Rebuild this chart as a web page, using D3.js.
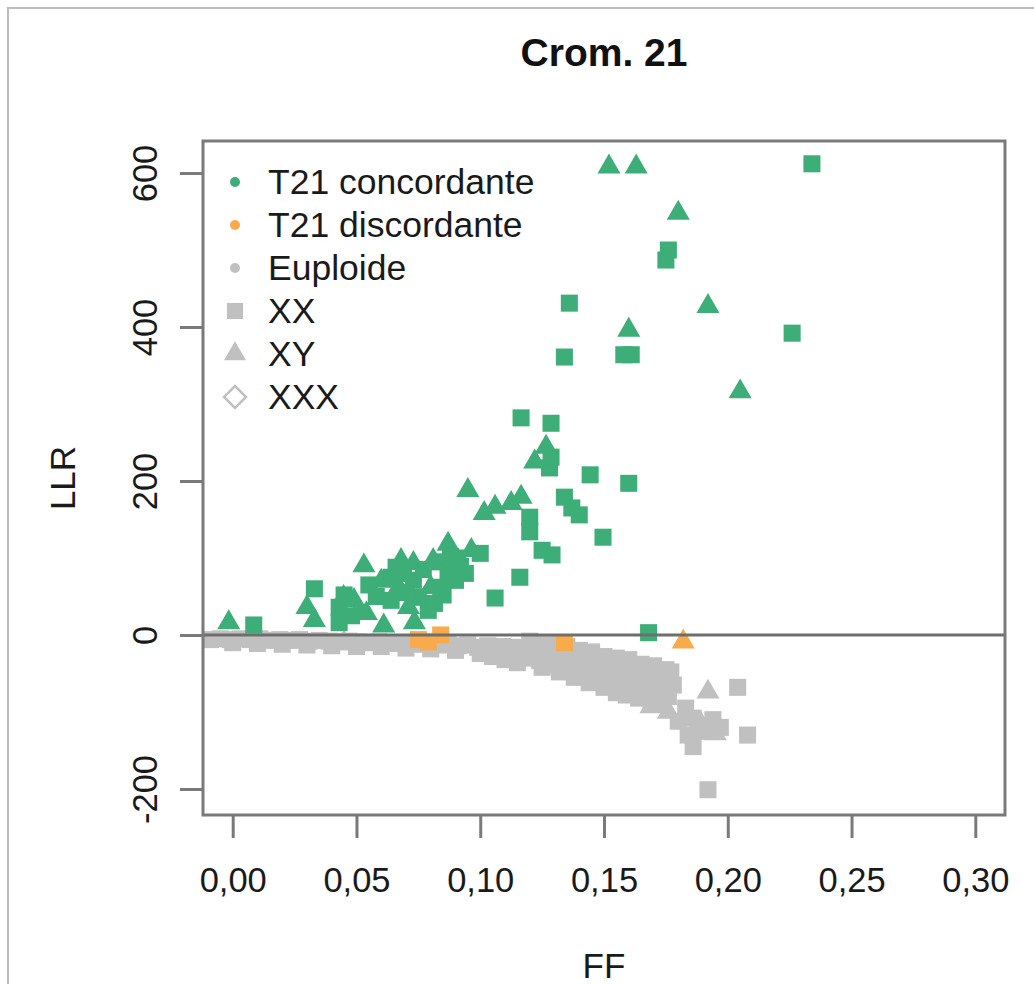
<!DOCTYPE html>
<html>
<head>
<meta charset="utf-8">
<script src="https://cdn.jsdelivr.net/npm/d3@7"></script>
<style>
  body { margin: 0; background: #fff; }
  svg { display: block; font-family: "Liberation Sans", Arial, sans-serif; }
</style>
</head>
<body>
<div id="chart"></div>
<script>
// values: [FF, LLR]
const concordXX = [
  [0.0085, 13], [0.033, 60], [0.043, 16], [0.043, 36], [0.045, 52], [0.055, 65],
  [0.064, 75], [0.064, 45], [0.069, 80], [0.073, 71], [0.075, 49], [0.079, 32],
  [0.0815, 41], [0.084, 62], [0.087, 80], [0.088, 102], [0.090, 71], [0.092, 89],
  [0.094, 80], [0.100, 106], [0.106, 48], [0.116, 75], [0.120, 153], [0.120, 134],
  [0.125, 110], [0.129, 104], [0.1165, 282], [0.1286, 275], [0.128, 217], [0.1286, 231],
  [0.1444, 208], [0.160, 197], [0.134, 179], [0.137, 165], [0.140, 156], [0.1496, 127],
  [0.136, 431], [0.134, 361], [0.158, 364], [0.161, 364], [0.176, 500], [0.175, 487],
  [0.226, 392], [0.234, 612], [0.168, 3], [0.077, 85], [0.083, 95], [0.085, 52],
  [0.091, 100], [0.070, 55], [0.066, 88], [0.048, 25], [0.058, 50]
];
const concordXY = [
  [-0.0016, 16], [0.030, 36], [0.033, 19], [0.0448, 49], [0.049, 45], [0.051, 33],
  [0.053, 90], [0.054, 28], [0.061, 12], [0.067, 62], [0.068, 97], [0.071, 36],
  [0.073, 93], [0.0734, 16], [0.080, 62], [0.081, 97], [0.087, 118], [0.0964, 110],
  [0.095, 188], [0.1016, 158], [0.106, 166], [0.1125, 171], [0.1165, 179],
  [0.1266, 244], [0.122, 225], [0.152, 608], [0.163, 608], [0.180, 548],
  [0.192, 427], [0.160, 396], [0.205, 316], [0.060, 70], [0.089, 85]
];
const discordXX = [[0.075, -6], [0.079, -9], [0.084, 0], [0.134, -10]];
const discordXY = [[0.182, -9]];
const euploidXX = [
  [-0.009, -6], [-0.005, -5], [-0.001, -6], [0.003, -5], [0.007, -6], [0.011, -5],
  [0.015, -7], [0.019, -6], [0.023, -7], [0.027, -6], [0.031, -8], [0.035, -7],
  [0.039, -8], [0.043, -9], [0.047, -8], [0.051, -9], [0.055, -10], [0.059, -9],
  [0.063, -10], [0.067, -11], [0.071, -10], [0.075, -12], [0.079, -11], [0.083, -13],
  [0.087, -12], [0.091, -14], [0.095, -13], [0.099, -16], [0.103, -14], [0.106, -20],
  [0.109, -15], [0.112, -24], [0.115, -16], [0.118, -28], [0.121, -18], [0.124, -33],
  [0.127, -20], [0.130, -38], [0.133, -25], [0.136, -45], [0.139, -30], [0.142, -52],
  [0.145, -35], [0.148, -60], [0.150, -42], [0.153, -55], [0.156, -65], [0.158, -40],
  [0.161, -70], [0.163, -50], [0.166, -72], [0.168, -45], [0.170, -60], [0.172, -76],
  [0.174, -50], [0.176, -80], [0.177, -48], [0.178, -65], [0.183, -95], [0.186, -108],
  [0.188, -118], [0.180, -112], [0.184, -130], [0.186, -145], [0.190, -125],
  [0.194, -110], [0.197, -120], [0.204, -68], [0.208, -130], [0.192, -201],
  [0.000, -10], [0.010, -11], [0.020, -12], [0.030, -13], [0.040, -14], [0.050, -15],
  [0.060, -15], [0.070, -17], [0.080, -18], [0.090, -20], [0.100, -24], [0.105, -28],
  [0.110, -32], [0.115, -36], [0.120, -30], [0.125, -42], [0.130, -28], [0.132, -48],
  [0.135, -35], [0.138, -55], [0.141, -42], [0.144, -62], [0.147, -48], [0.150, -68],
  [0.152, -50], [0.155, -75], [0.157, -55], [0.159, -78], [0.162, -60], [0.164, -82],
  [0.167, -65], [0.169, -85], [0.171, -68], [0.173, -88], [0.175, -70],
  [0.120, -8], [0.125, -10], [0.130, -12], [0.135, -15], [0.140, -20], [0.145, -22],
  [0.150, -28], [0.155, -30], [0.160, -32], [0.165, -38], [0.170, -40], [0.175, -45]
];
const euploidXY = [
  [0.010, -8], [0.045, -10], [0.085, -14], [0.117, -22], [0.140, -40], [0.160, -55],
  [0.169, -93], [0.176, -100], [0.182, -106], [0.192, -74], [0.195, -128], [0.189, -115]
];
const xTicks = [0, 0.05, 0.10, 0.15, 0.20, 0.25, 0.30];
const yTicks = [-200, 0, 200, 400, 600];
const legendLabels = ["T21 concordante", "T21 discordante", "Euploide", "XX", "XY", "XXX"];

const width = 1034, height = 984;
const margin = {top: 141, right: 29, bottom: 169, left: 203};
const green = "#3dae77", orange = "#f9ab4b", grey = "#c0c0c0", axisCol = "#7a7a7a";

const svg = d3.select("#chart").append("svg")
    .attr("width", width)
    .attr("height", height);

svg.append("rect")
    .attr("x", 8).attr("y", 8)
    .attr("width", 1040).attr("height", 1000)
    .attr("fill", "none")
    .attr("stroke", "#bdbdbd")
    .attr("stroke-width", 2);

const x = d3.scaleLinear()
    .domain([-0.012, 0.312])
    .range([margin.left, width - margin.right]);
const y = d3.scaleLinear()
    .domain([-233.8, 641.6])
    .range([height - margin.bottom, margin.top]);

const comma = v => d3.format(".2f")(v).replace(".", ",");

// x axis
const xAxis = svg.append("g")
    .attr("transform", `translate(0,${height - margin.bottom})`)
    .call(d3.axisBottom(x).tickValues(xTicks).tickFormat(comma).tickSize(23).tickPadding(30));
xAxis.select(".domain").remove();
xAxis.selectAll("line").attr("stroke", axisCol).attr("stroke-width", 3);
xAxis.selectAll("text").attr("font-size", 34.5).attr("fill", "#1a1a1a");

// y axis
const yAxis = svg.append("g")
    .attr("transform", `translate(${margin.left},0)`)
    .call(d3.axisLeft(y).tickValues(yTicks).tickSize(23).tickFormat(d => String(d)));
yAxis.select(".domain").remove();
yAxis.selectAll("line").attr("stroke", axisCol).attr("stroke-width", 3);
yAxis.selectAll("text")
    .attr("x", null).attr("dy", null)
    .attr("text-anchor", "middle")
    .attr("transform", "translate(-46,0) rotate(-90)")
    .attr("font-size", 34.5).attr("fill", "#1a1a1a");

const sym = (type, size) => d3.symbol().type(type).size(size)();
const squarePath = sym(d3.symbolSquare, 290);
const trianglePath = sym(d3.symbolTriangle, 230);

function drawGroup(data, path, color) {
  svg.append("g").selectAll("path")
    .data(data)
    .join("path")
      .attr("transform", d => `translate(${x(d[0])},${y(d[1])})`)
      .attr("d", path)
      .attr("fill", color);
}

drawGroup(euploidXX, squarePath, grey);
drawGroup(euploidXY, trianglePath, grey);
drawGroup(concordXX, squarePath, green);
drawGroup(concordXY, trianglePath, green);
drawGroup(discordXX, squarePath, orange);
drawGroup(discordXY, trianglePath, orange);

// horizontal line at 0
svg.append("line")
    .attr("x1", margin.left).attr("x2", width - margin.right)
    .attr("y1", y(0)).attr("y2", y(0))
    .attr("stroke", "#6e6e6e").attr("stroke-width", 3);

// plot box
svg.append("rect")
    .attr("x", margin.left).attr("y", margin.top)
    .attr("width", width - margin.left - margin.right)
    .attr("height", height - margin.top - margin.bottom)
    .attr("fill", "none")
    .attr("stroke", axisCol)
    .attr("stroke-width", 3);

// legend
const legend = svg.append("g").attr("transform", "translate(235,182)");
const rowH = 43;
const legendMarks = [
  g => g.append("circle").attr("r", 5).attr("fill", green),
  g => g.append("circle").attr("r", 5).attr("fill", orange),
  g => g.append("circle").attr("r", 5).attr("fill", grey),
  g => g.append("path").attr("d", sym(d3.symbolSquare, 260)).attr("fill", grey),
  g => g.append("path").attr("d", sym(d3.symbolTriangle, 210)).attr("fill", grey),
  g => g.append("path").attr("d", "M0,-11L11,0L0,11L-11,0Z")
        .attr("fill", "none").attr("stroke", grey).attr("stroke-width", 2.5)
];
legendLabels.forEach((label, i) => {
  const row = legend.append("g").attr("transform", `translate(0,${i * rowH})`);
  legendMarks[i](row);
  row.append("text")
      .attr("x", 33).attr("y", 12)
      .attr("font-size", 35.5)
      .attr("fill", "#1a1a1a")
      .text(label);
});

// titles
svg.append("text")
    .attr("x", (margin.left + width - margin.right) / 2).attr("y", 66)
    .attr("text-anchor", "middle")
    .attr("font-size", 39).attr("font-weight", "bold")
    .attr("fill", "#111")
    .text("Crom. 21");

svg.append("text")
    .attr("x", (margin.left + width - margin.right) / 2).attr("y", 978)
    .attr("text-anchor", "middle")
    .attr("font-size", 35).attr("fill", "#1a1a1a")
    .text("FF");

svg.append("text")
    .attr("transform", `translate(75,${(margin.top + height - margin.bottom) / 2}) rotate(-90)`)
    .attr("text-anchor", "middle")
    .attr("font-size", 35).attr("fill", "#1a1a1a")
    .text("LLR");
</script>
</body>
</html>
